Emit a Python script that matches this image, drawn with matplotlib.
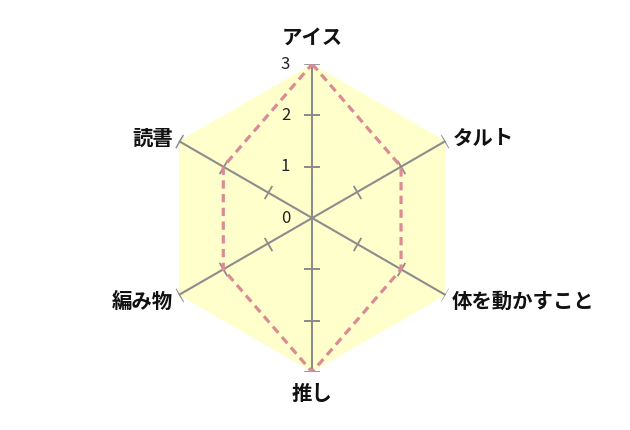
import numpy as np
import matplotlib
matplotlib.use("Agg")
import matplotlib.pyplot as plt

plt.rcParams["font.family"] = ["Noto Sans CJK JP", "DejaVu Sans"]

# data
categories = ["アイス", "タルト", "体を動かすこと", "推し", "編み物", "読書"]
values = [3, 2, 2, 3, 2, 2]
r_max = 3
tick_values = [0, 1, 2, 3]

FILL = "#ffffcc"
LINE = "#dc8a94"
AXIS = "#8c8c8c"

n = len(categories)
theta = np.arange(n) * 2 * np.pi / n

fig = plt.figure(figsize=(6.3, 4.3), dpi=100)
ax = fig.add_axes([0.251, 0.135, 0.489, 0.716], projection="polar")
ax.set_theta_zero_location("N")
ax.set_theta_direction(-1)
ax.set_ylim(0, r_max)
ax.grid(False)
ax.spines["polar"].set_visible(False)
ax.set_xticks([])
ax.set_yticks([])
ax.patch.set_alpha(0)

# background hexagon
th_closed = np.append(theta, theta[0])
ax.fill(th_closed, [r_max] * (n + 1), color=FILL, lw=0, zorder=1)

# axes with perpendicular ticks
for t in theta:
    ax.plot([t, t], [0, r_max], color=AXIS, lw=1.5, zorder=2)
    ang = 90 - np.degrees(t)
    ax.plot([t] * 3, tick_values[1:], ls="none", marker=(2, 0, ang),
            ms=11, mec=AXIS, mew=1.3, zorder=2)

# data polygon
vals_closed = values + values[:1]
ax.plot(th_closed, vals_closed, color=LINE, lw=2.3,
        ls=(0, (2.6, 1.7)), zorder=3)

# radial tick labels on top axis
for v in tick_values:
    ax.annotate(str(v), xy=(0, v), xytext=(-22, 0), textcoords="offset pixels",
                ha="right", va="center", fontsize=12, color="#222222")

# category labels
offsets = [(0, 27, "center"), (7, 3, "left"), (6, -6, "left"),
           (0, -22, "center"), (-6, -6, "right"), (-6, 3, "right")]
for t, lab, (dx, dy, ha) in zip(theta, categories, offsets):
    ax.annotate(lab, xy=(t, r_max), xytext=(dx, dy), textcoords="offset pixels",
                ha=ha, va="center", fontsize=14.7, fontweight="bold",
                color="#111111", annotation_clip=False)

fig.savefig("out.png", dpi=100)
